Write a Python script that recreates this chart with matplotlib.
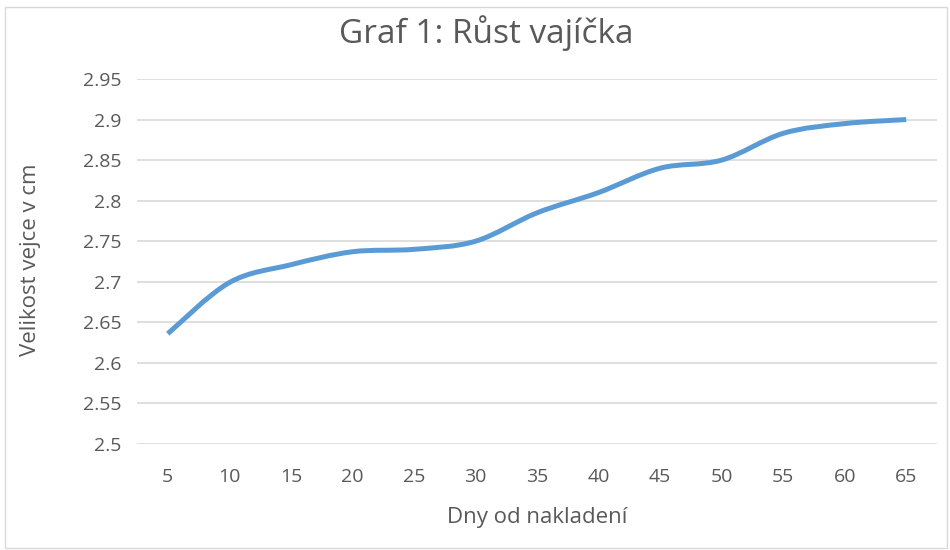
import matplotlib.pyplot as plt
from matplotlib.path import Path
from matplotlib.patches import PathPatch, Rectangle

# data
days = [5, 10, 15, 20, 25, 30, 35, 40, 45, 50, 55, 60, 65]
size_cm = [2.636, 2.699, 2.721, 2.737, 2.740, 2.750, 2.785,
           2.810, 2.840, 2.850, 2.883, 2.895, 2.900]
y_ticks = [2.5, 2.55, 2.6, 2.65, 2.7, 2.75, 2.8, 2.85, 2.9, 2.95]
y_tick_labels = ["2.5", "2.55", "2.6", "2.65", "2.7", "2.75", "2.8", "2.85", "2.9", "2.95"]

plt.rcParams['font.family'] = ['Open Sans', 'DejaVu Sans']
TEXT = '#595959'
GRID = '#d9d9d9'
LINE = '#5b9bd5'

fig = plt.figure(figsize=(9.5, 5.5), dpi=100)
ax = fig.add_axes([137 / 950, 1 - 444 / 550, 800 / 950, 365 / 550])

# smoothed line like Excel (bezier through the points)
xs = list(range(len(days)))
pts = list(zip(xs, size_cm))
verts = [pts[0]]
codes = [Path.MOVETO]
for i in range(len(pts) - 1):
    p0 = pts[i - 1] if i > 0 else pts[i]
    p1 = pts[i]
    p2 = pts[i + 1]
    p3 = pts[i + 2] if i + 2 < len(pts) else pts[i + 1]
    c1 = (p1[0] + (p2[0] - p0[0]) / 6, p1[1] + (p2[1] - p0[1]) / 6)
    c2 = (p2[0] - (p3[0] - p1[0]) / 6, p2[1] - (p3[1] - p1[1]) / 6)
    verts += [c1, c2, p2]
    codes += [Path.CURVE4] * 3
ax.add_patch(PathPatch(Path(verts, codes), facecolor='none', edgecolor=LINE,
                       lw=3.6, capstyle='butt', joinstyle='round', zorder=3))

ax.set_xlim(-0.5, len(days) - 0.5)
ax.set_ylim(2.5, 2.95)
ax.set_xticks(xs)
ax.set_xticklabels([str(d) for d in days])
ax.set_yticks(y_ticks)
ax.set_yticklabels(y_tick_labels)
ax.tick_params(length=0, labelsize=14, colors=TEXT)
ax.tick_params(axis='x', pad=17)
ax.tick_params(axis='y', pad=11)
for s in ax.spines.values():
    s.set_visible(False)
ax.grid(axis='y', color=GRID, lw=1.2)
ax.set_axisbelow(True)

ax.set_xlabel('Dny od nakladení', fontsize=16, color=TEXT, va='center')
ax.xaxis.set_label_coords(0.5, (444 - 518) / 365)
ax.set_ylabel('Velikost vejce v cm', fontsize=16, color=TEXT, va='center')
ax.yaxis.set_label_coords((30 - 137) / 800, 0.5 + (444 - 260 - 182.5) / 365)
fig.text(486 / 950, 1 - 33 / 550, 'Graf 1: Růst vajíčka', fontsize=24, color=TEXT,
         ha='center', va='center')

# chart border
fig.add_artist(Rectangle((5 / 950, 1 - 548 / 550), 942 / 950, 541 / 550,
                         transform=fig.transFigure, fill=False,
                         edgecolor='#d9d9d9', lw=1))

fig.savefig('out.png', dpi=100)
